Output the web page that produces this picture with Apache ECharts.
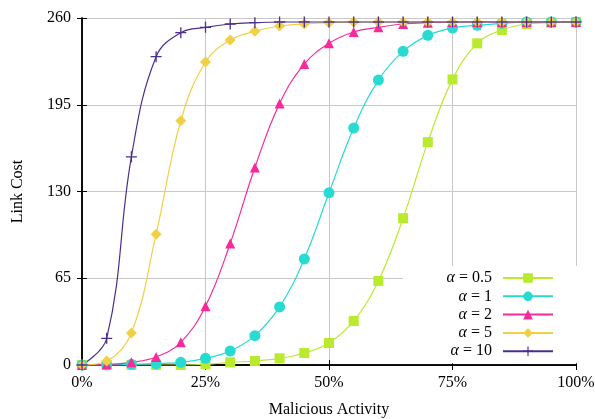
<!DOCTYPE html>
<html>
<head>
<meta charset="utf-8">
<script src="https://cdn.jsdelivr.net/npm/echarts@6/dist/echarts.min.js"></script>
<style>
html,body{margin:0;padding:0;background:#fff;}
#c{width:595px;height:419px;}
</style>
</head>
<body>
<div id="c"></div>
<script>
const activity = [0,5,10,15,20,25,30,35,40,45,50,55,60,65,70,75,80,85,90,95,100];
const seriesNames = ['α = 0.5','α = 1','α = 2','α = 5','α = 10'];
const alpha05 = [0,0,0,0,0,0.5,2,3,5,9,16.5,33,63,110,167,214,241,251,255.5,256.5,257];
const alpha1  = [0,0,0.5,1,2,5,10.5,22,43.5,79.5,129,177.5,213.5,235,247,252.5,254.5,256,257,257,257];
const alpha2  = [0,0.5,2,6,17,44,91,148,196,225.5,241,249.5,253,255.5,256.5,257,257,257,257,257,257];
const alpha5  = [0,3,24,98,183,227,243.5,250,254,255.5,256.5,257,257,257,257,257,257,257,257,257,257];
const alpha10 = [0,20,156,231,249,253,255.5,256.5,257,257,257,257,257,257,257,257,257,257,257,257,257];
const yTicks = [0,65,130,195,260];
const xTicks = [0,25,50,75,100];

const colors = ['#b9ea2e','#27dad2','#f72a9b','#f0d044','#4b2f8c'];
const symbols = ['rect','circle','triangle','diamond','path://M4.4,0H5.6V4.4H10V5.6H5.6V10H4.4V5.6H0V4.4H4.4Z'];
const sizes = [10,11,10,11,11];
const allData = [alpha05, alpha1, alpha2, alpha5, alpha10];

const FONT = 'Liberation Serif';
const chart = echarts.init(document.getElementById('c'));

const series = allData.map((vals, i) => ({
  name: seriesNames[i],
  type: 'line',
  data: activity.map((x, j) => [x, vals[j]]),
  smooth: 0.4,
  symbol: symbols[i],
  symbolSize: sizes[i],
  showAllSymbol: true,
  lineStyle: {color: colors[i], width: 1.2},
  itemStyle: {color: colors[i]},
  emphasis: {disabled: true},
  animation: false
}));

const axisLine = {show: true, lineStyle: {color: '#000', width: 1.5}};
chart.setOption({
  animation: false,
  backgroundColor: '#fff',
  textStyle: {fontFamily: FONT},
  grid: {left: 82, right: 19, top: 18, bottom: 54, containLabel: false, outerBoundsMode: 'none'},
  legend: {
    orient: 'vertical',
    left: 403,
    top: 266,
    align: 'right',
    backgroundColor: '#fff',
    padding: [4, 26, 4, 19],
    itemWidth: 50,
    itemHeight: 12,
    itemGap: 2.3,
    data: seriesNames,
    formatter: name => '{a|α}{b|' + name.slice(1) + '}',
    textStyle: {
      fontFamily: FONT, fontSize: 16, color: '#000', width: 70, align: 'right',
      padding: [0, 6, 0, 0], lineHeight: 16,
      rich: {
        a: {fontFamily: FONT, fontSize: 16, fontStyle: 'italic', color: '#000', lineHeight: 16},
        b: {fontFamily: FONT, fontSize: 16, color: '#000', lineHeight: 16}
      }
    }
  },
  xAxis: [{
    type: 'value', min: 0, max: 100, interval: 25,
    name: 'Malicious Activity', nameLocation: 'middle', nameGap: 37,
    nameTextStyle: {fontFamily: FONT, fontSize: 16, color: '#000'},
    axisLine: axisLine,
    axisTick: {show: true, inside: true, length: 5, lineStyle: {color: '#000', width: 1}},
    axisLabel: {formatter: '{value}%', fontFamily: FONT, fontSize: 16, color: '#000', margin: 10,
      customValues: xTicks},
    splitLine: {show: true, lineStyle: {color: '#c8c8c8', width: 1}}
  }, {
    type: 'value', min: 0, max: 100, interval: 25, position: 'top',
    axisLine: axisLine,
    axisTick: {show: true, inside: true, length: 5, lineStyle: {color: '#000', width: 1}},
    axisLabel: {show: false}, splitLine: {show: false}
  }],
  yAxis: [{
    type: 'value', min: 0, max: 260, interval: 65,
    name: 'Link Cost', nameLocation: 'middle', nameGap: 56,
    nameTextStyle: {fontFamily: FONT, fontSize: 16, color: '#000'},
    axisLine: axisLine,
    axisTick: {show: true, inside: true, length: 5, lineStyle: {color: '#000', width: 1}},
    axisLabel: {fontFamily: FONT, fontSize: 16, color: '#000', margin: 11, customValues: yTicks},
    splitLine: {show: true, lineStyle: {color: '#c8c8c8', width: 1}}
  }, {
    type: 'value', min: 0, max: 260, interval: 65, position: 'right',
    axisLine: axisLine,
    axisTick: {show: true, inside: true, length: 5, lineStyle: {color: '#000', width: 1}},
    axisLabel: {show: false}, splitLine: {show: false}
  }],
  series: series
});
</script>
</body>
</html>
